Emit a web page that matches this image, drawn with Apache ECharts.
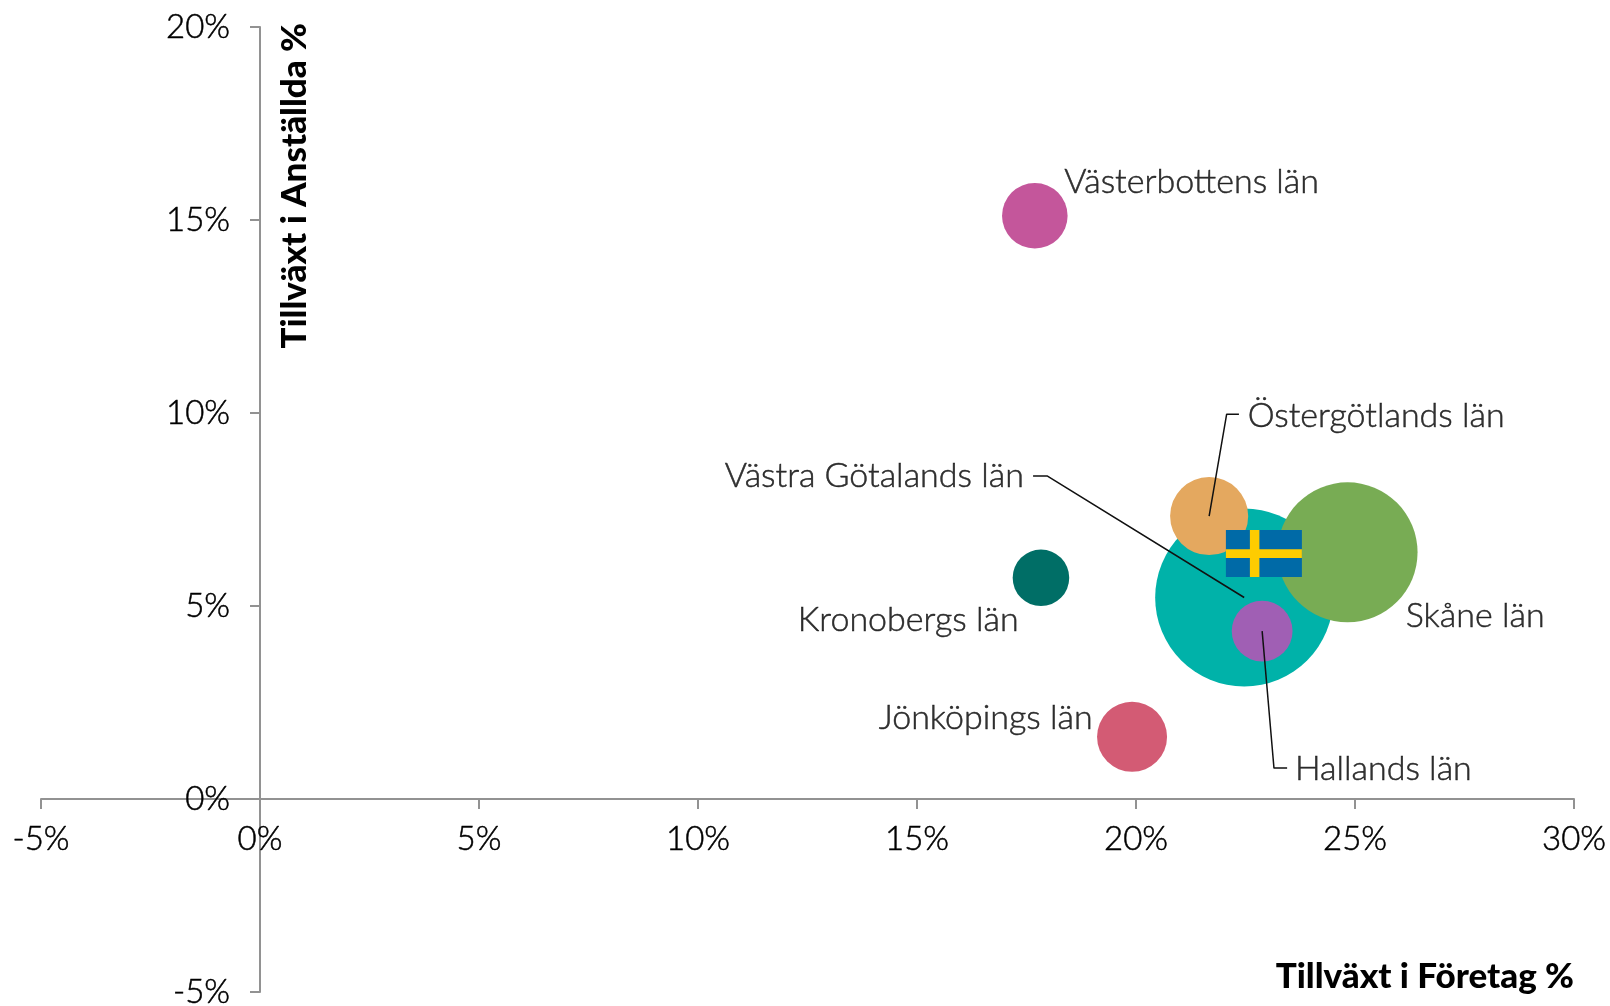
<!DOCTYPE html>
<html><head><meta charset="utf-8">
<style>html,body{margin:0;padding:0;background:#fff}#c{width:1610px;height:1006px}</style>
<script src="https://cdn.jsdelivr.net/npm/echarts@6/dist/echarts.min.js"></script>
</head><body><div id="c"></div>
<script>
const counties = ['Västra Götalands län','Skåne län','Östergötlands län','Hallands län','Västerbottens län','Kronobergs län','Jönköpings län'];
const growthCompanies = [22.47,24.83,21.67,22.88,17.69,17.83,19.91];
const growthEmployees = [5.22,6.39,7.33,4.35,15.11,5.73,1.61];
const bubbleWeights = [317,196,61,37,43,32,49];
const bubbleColors = ['#00B2A9','#78AC54','#E4A85F','#A05FB4','#C4569B','#006E66','#D35B74'];
const labelX = [17.44,26.16,22.55,23.63,18.36,17.32,19.01];
const labelY = [8.37,4.74,9.92,0.78,15.98,4.64,2.10];
const labelSide = ['left','right','right','right','right','left','left'];
const leaderOstergotland = [[21.67,7.33],[22.07,9.97],[22.35,9.97]];
const leaderVastraGotaland = [[22.47,5.22],[17.97,8.37],[17.65,8.37]];
const leaderHalland = [[22.88,4.35],[23.15,0.80],[23.45,0.80]];
const swedenPoint = [22.92,6.36];
const FONT = 'Lato';
const chart = echarts.init(document.getElementById('c'));
const thinText = {color:'#000',fontFamily:FONT,fontWeight:300,fontSize:34,textBorderColor:'#000',textBorderWidth:0.5};
const axisCommon = {
  type:'value', interval:5, splitLine:{show:false},
  axisLine:{show:true,onZero:false,lineStyle:{color:'#929292',width:2}},
  axisTick:{show:true,length:10,lineStyle:{color:'#929292',width:2}},
  axisLabel:Object.assign({show:true,formatter:'{value}%',showMinLabel:true,showMaxLabel:true,hideOverlap:false},thinText,{fontSize:33})
};
const leader = d => ({type:'line',data:d,symbol:'none',silent:true,z:6,lineStyle:{color:'#111',width:1.5}});
chart.setOption({
  animation:false,
  grid:{left:41,right:36,top:27,bottom:14,containLabel:false,outerBoundsMode:'none'},
  xAxis:Object.assign({},axisCommon,{min:-5,max:30,position:'bottom',offset:-193,
    axisLabel:Object.assign({},axisCommon.axisLabel,{margin:24}),
    name:'Tillväxt i Företag %',nameLocation:'end',nameGap:0,nameMoveOverlap:false,
    nameTextStyle:{fontFamily:FONT,fontWeight:900,fontSize:35,color:'#000',align:'right',verticalAlign:'top',padding:[160,0,0,0]}}),
  yAxis:Object.assign({},axisCommon,{min:-5,max:20,position:'left',offset:-219,
    axisLabel:Object.assign({},axisCommon.axisLabel,{margin:30}),
    name:'Tillväxt i Anställda %',nameLocation:'end',nameGap:4,nameRotate:90,nameMoveOverlap:false,
    nameTextStyle:{fontFamily:FONT,fontWeight:900,fontSize:35,color:'#000',align:'right',verticalAlign:'top',padding:[17,0,0,0]}}),
  series:[
    {type:'scatter',z:3,silent:true,
     data:counties.map((n,i)=>({name:n,value:[growthCompanies[i],growthEmployees[i],bubbleWeights[i]],itemStyle:{color:bubbleColors[i],opacity:1}})),
     symbolSize:v=>Math.sqrt(v[2])*10},
    {type:'custom',z:4,silent:true,data:[swedenPoint],
     renderItem:(p,api)=>{
       const c=api.coord([api.value(0),api.value(1)]);
       const W=76,H=47,x=c[0]-38,y=c[1]-23.5;
       return {type:'group',children:[
         {type:'rect',shape:{x,y,width:W,height:H},style:{fill:'#006AA7'}},
         {type:'rect',shape:{x:x+24,y,width:9.5,height:H},style:{fill:'#FECC00'}},
         {type:'rect',shape:{x,y:y+19.3,width:W,height:8.8},style:{fill:'#FECC00'}}
       ]};
     }},
    leader(leaderOstergotland),leader(leaderVastraGotaland),leader(leaderHalland),
    {type:'scatter',z:7,silent:true,symbolSize:0,
     data:counties.map((n,i)=>({name:n,value:[labelX[i],labelY[i]],
       label:Object.assign({show:true,position:labelSide[i],distance:0,formatter:n},thinText)}))}
  ]
});
</script></body></html>
